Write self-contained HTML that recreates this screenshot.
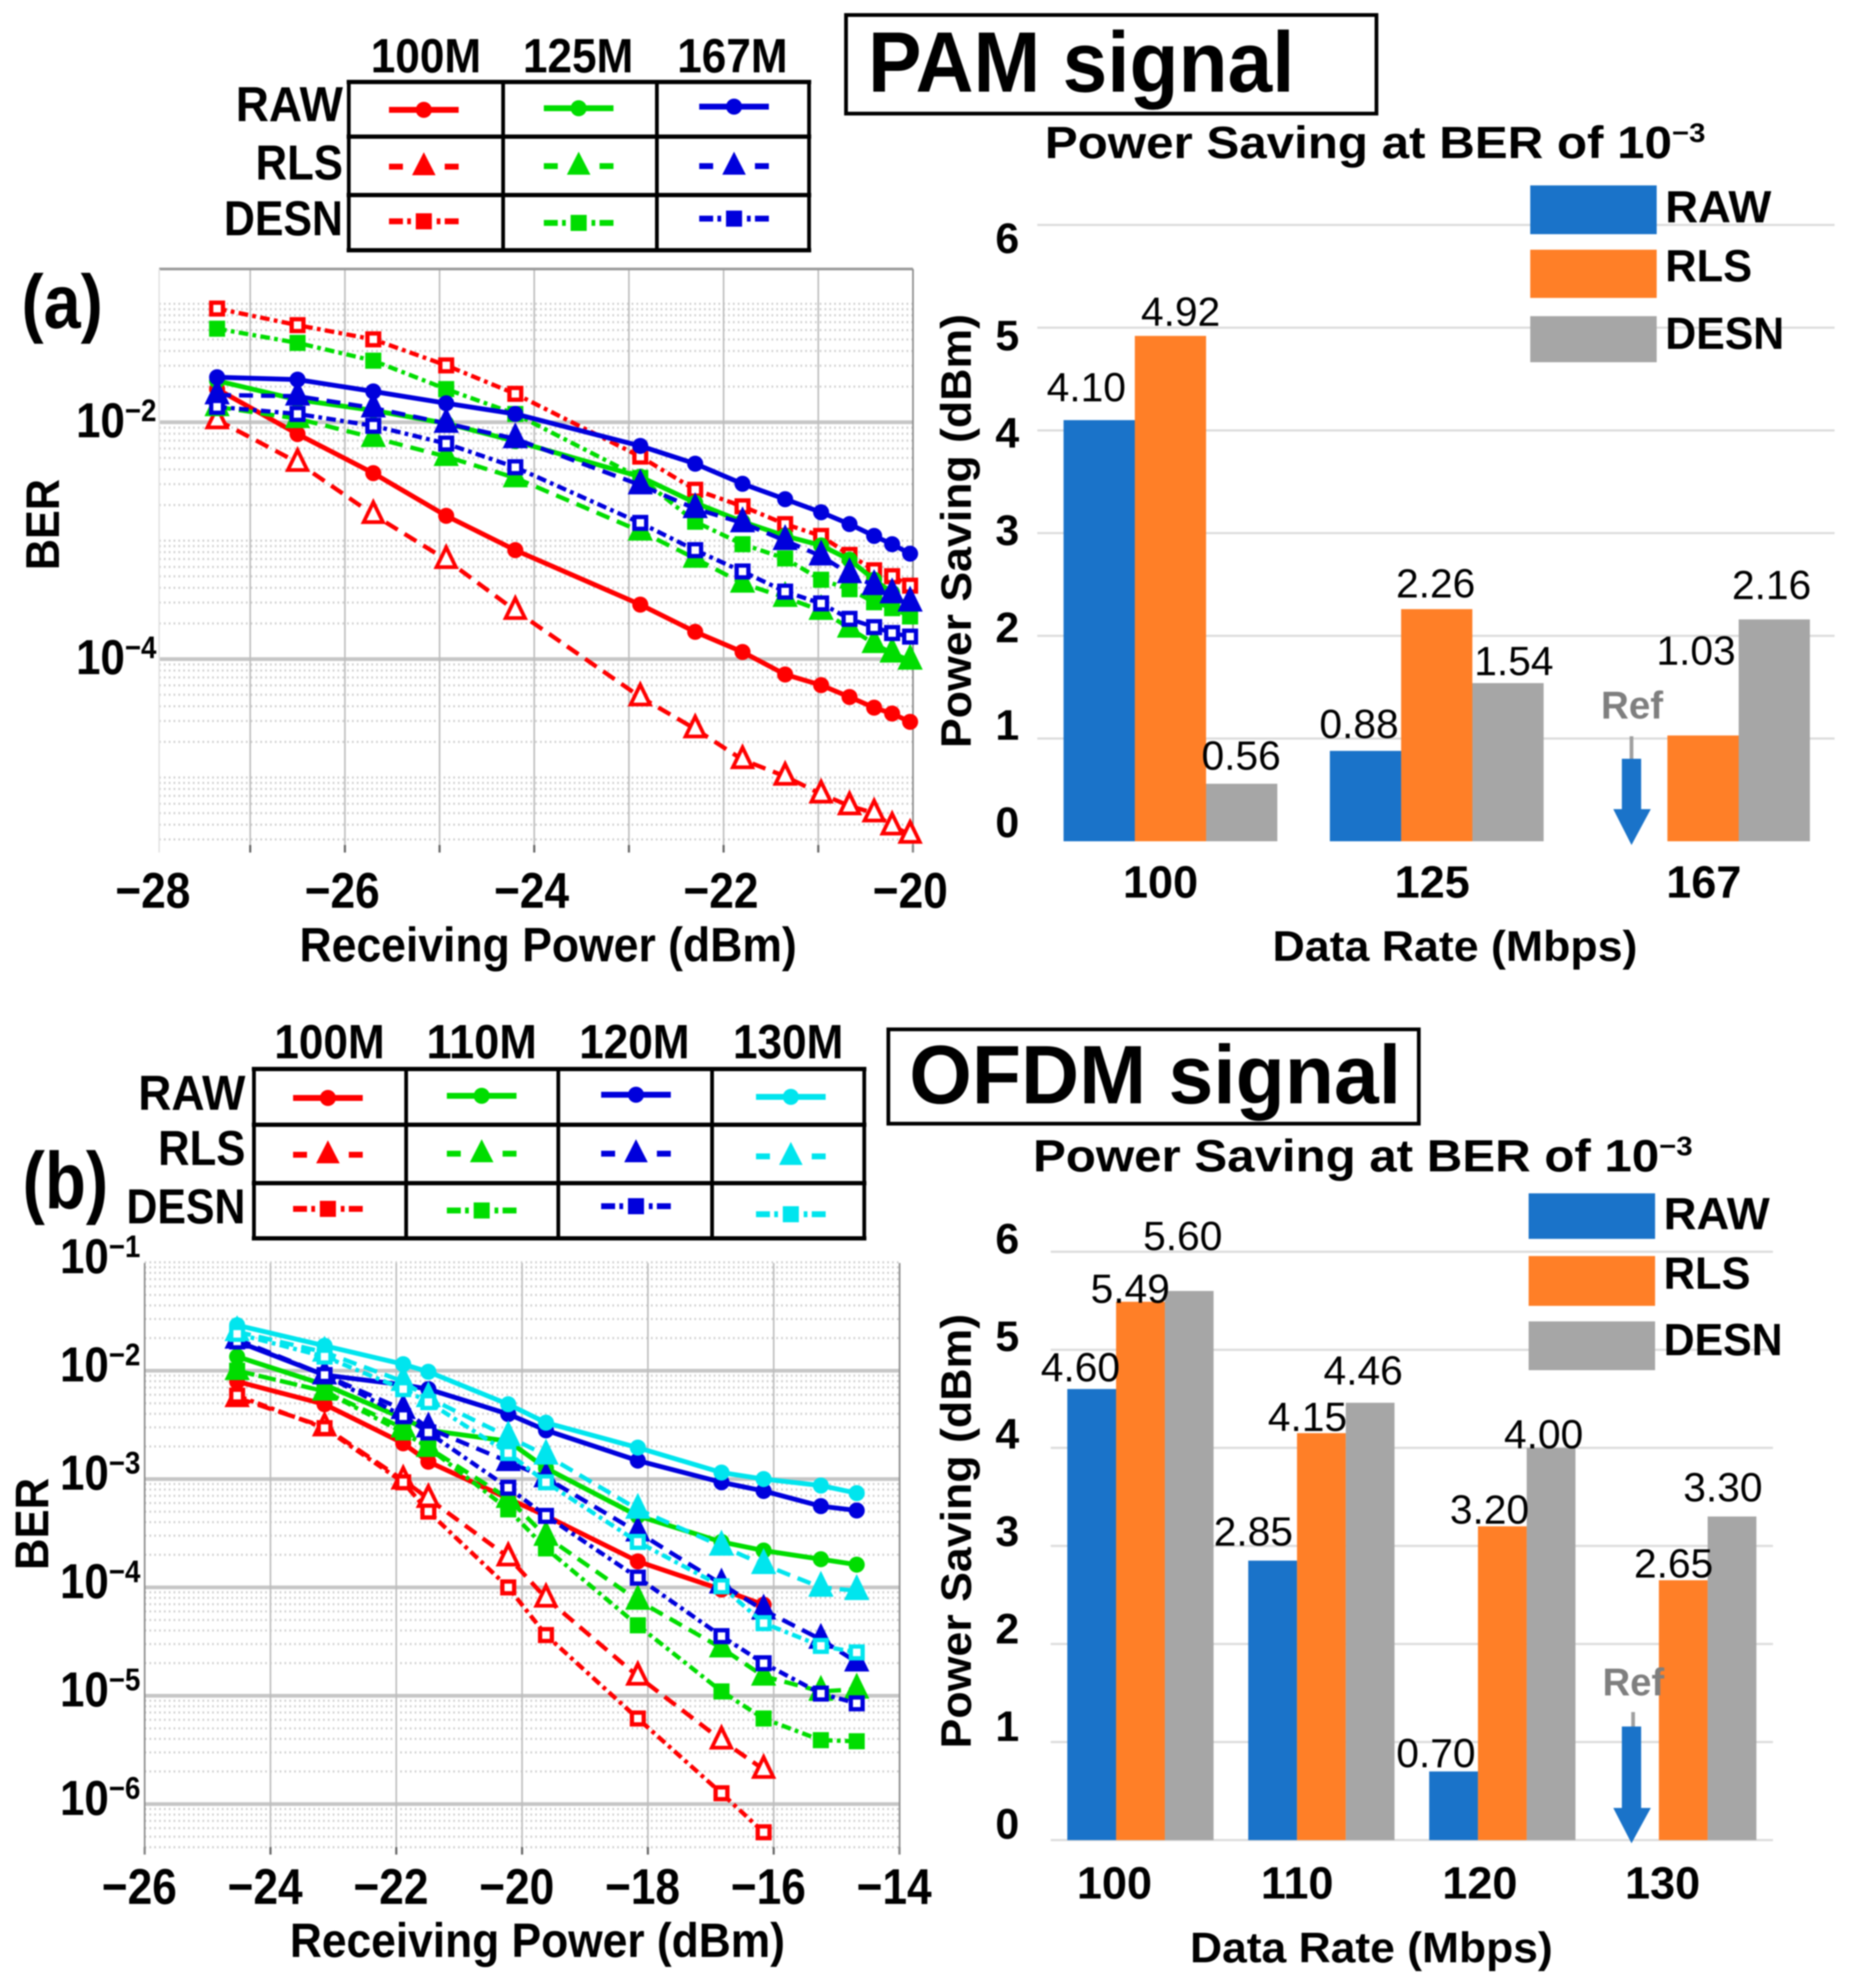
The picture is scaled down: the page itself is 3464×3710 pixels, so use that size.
<!DOCTYPE html>
<html lang="en">
<head>
<meta charset="utf-8">
<title>PAM and OFDM BER and power saving charts</title>
<style>
html,body{margin:0;padding:0;background:#fff;}
svg{display:block;filter:blur(1.2px);}
text{font-family:"Liberation Sans",sans-serif;fill:#000;}
.b{font-weight:bold;}
</style>
</head>
<body>
<svg id="figure" xmlns="http://www.w3.org/2000/svg" width="3464" height="3710" viewBox="0 0 3464 3710">
  <rect x="0" y="0" width="3464" height="3710" fill="#fff"/>

  <g id="pam-ber"></g>
  <g id="ofdm-ber"></g>
  <g id="pam-bars"></g>
  <g id="ofdm-bars"></g>
  <g id="legend-tables"></g>

  <rect x="1579" y="28" width="990" height="184" fill="#fff" stroke="#000" stroke-width="7"/>
  <text class="b" x="1620" y="171" font-size="160" textLength="796" lengthAdjust="spacingAndGlyphs">PAM signal</text>
  <rect x="1658" y="1921" width="990" height="176" fill="#fff" stroke="#000" stroke-width="7"/>
  <text class="b" x="1697" y="2059" font-size="155" textLength="918" lengthAdjust="spacingAndGlyphs">OFDM signal</text>

  <text class="b" x="40" y="612" font-size="142" textLength="152" lengthAdjust="spacingAndGlyphs">(a)</text>
  <text class="b" x="42" y="2255" font-size="150" textLength="160" lengthAdjust="spacingAndGlyphs">(b)</text>

  <text class="b" x="559" y="1794" font-size="90" textLength="928" lengthAdjust="spacingAndGlyphs">Receiving Power (dBm)</text>
  <text class="b" transform="translate(110,1064) rotate(-90)" font-size="88" textLength="170" lengthAdjust="spacingAndGlyphs">BER</text>
  <text class="b" x="541" y="3652" font-size="90" textLength="924" lengthAdjust="spacingAndGlyphs">Receiving Power (dBm)</text>
  <text class="b" transform="translate(90,2930) rotate(-90)" font-size="88" textLength="172" lengthAdjust="spacingAndGlyphs">BER</text>

  <text class="b" x="1950" y="295" font-size="84" textLength="1233" lengthAdjust="spacingAndGlyphs">Power Saving at BER of 10<tspan dy="-30" font-size="50">−3</tspan></text>
  <text class="b" x="1928" y="2186" font-size="84" textLength="1231" lengthAdjust="spacingAndGlyphs">Power Saving at BER of 10<tspan dy="-30" font-size="50">−3</tspan></text>

  <text class="b" transform="translate(1812,1396) rotate(-90)" font-size="80" textLength="810" lengthAdjust="spacingAndGlyphs">Power Saving (dBm)</text>
  <text class="b" transform="translate(1812,3263) rotate(-90)" font-size="80" textLength="811" lengthAdjust="spacingAndGlyphs">Power Saving (dBm)</text>
  <text class="b" x="2375" y="1793" font-size="80" textLength="681" lengthAdjust="spacingAndGlyphs">Data Rate (Mbps)</text>
  <text class="b" x="2221" y="3662" font-size="80" textLength="677" lengthAdjust="spacingAndGlyphs">Data Rate (Mbps)</text>

  <text class="b" x="2988" y="1341" font-size="72" textLength="116" lengthAdjust="spacingAndGlyphs" style="fill:#7f7f7f">Ref</text>
  <line x1="3045" y1="1374" x2="3045" y2="1420" stroke="#a0a0a0" stroke-width="7"/>
  <polygon points="3027,1416 3063,1416 3063,1510 3081,1510 3045,1577 3011,1510 3027,1510" fill="#1a73c9"/>
  <text class="b" x="2991" y="3164" font-size="72" textLength="115" lengthAdjust="spacingAndGlyphs" style="fill:#7f7f7f">Ref</text>
  <line x1="3048" y1="3195" x2="3048" y2="3226" stroke="#a0a0a0" stroke-width="7"/>
  <polygon points="3027,3222 3063,3222 3063,3374 3081,3374 3045,3440 3011,3374 3027,3374" fill="#1a73c9"/>
</svg>

<script>
// ---------- BER chart data (values are log10 of BER) ----------
const pamPower = [-27.35,-26.5,-25.7,-24.93,-24.2,-22.88,-22.3,-21.8,-21.35,-20.97,-20.67,-20.41,-20.22,-20.03];
const pamRaw100 = [-1.72,-2.10,-2.43,-2.79,-3.08,-3.54,-3.77,-3.94,-4.13,-4.22,-4.32,-4.41,-4.46,-4.53];
const pamRls100 = [-1.98,-2.34,-2.78,-3.16,-3.59,-4.32,-4.59,-4.85,-4.99,-5.14,-5.24,-5.30,-5.41,-5.48];
const pamDesn100 = [-1.04,-1.18,-1.30,-1.52,-1.76,-2.29,-2.57,-2.71,-2.86,-2.96,-3.12,-3.25,-3.30,-3.38];
const pamRaw125 = [-1.65,-1.81,-1.90,-2.01,-2.16,-2.46,-2.68,-2.84,-2.96,-3.04,-3.16,-3.33,-3.44,-3.57];
const pamRls125 = [-1.87,-1.97,-2.13,-2.29,-2.47,-2.92,-3.15,-3.36,-3.48,-3.59,-3.74,-3.87,-3.95,-4.01];
const pamDesn125 = [-1.21,-1.33,-1.48,-1.72,-1.93,-2.47,-2.84,-3.03,-3.15,-3.33,-3.41,-3.52,-3.57,-3.64];
const pamRaw167 = [-1.62,-1.64,-1.74,-1.84,-1.93,-2.20,-2.35,-2.52,-2.65,-2.76,-2.86,-2.96,-3.03,-3.11];
const pamRls167 = [-1.77,-1.78,-1.88,-2.01,-2.14,-2.53,-2.73,-2.85,-3.00,-3.13,-3.28,-3.38,-3.45,-3.52];
const pamDesn167 = [-1.87,-1.93,-2.03,-2.18,-2.38,-2.85,-3.08,-3.26,-3.43,-3.53,-3.66,-3.73,-3.78,-3.81];
const pamXTicks = [-28,-26,-24,-22,-20];
const pamGridX = [-27,-26,-25,-24,-23,-22,-21,-20];
const pamYTicks = [-2,-4];

const ofdmPower = [-24.53,-23.14,-21.89,-21.49,-20.22,-19.62,-18.16,-16.83,-16.16,-15.25,-14.68];
const ofdmRaw100 = [-2.10,-2.31,-2.67,-2.84,-3.18,-3.34,-3.76,-4.02,-4.16];
const ofdmRls100 = [-2.25,-2.52,-3.01,-3.18,-3.72,-4.10,-4.82,-5.41,-5.68];
const ofdmDesn100 = [-2.23,-2.53,-3.03,-3.30,-4.00,-4.44,-5.21,-5.90,-6.26];
const ofdmRaw110 = [-1.87,-2.13,-2.44,-2.55,-2.65,-2.90,-3.34,-3.58,-3.66,-3.74,-3.79];
const ofdmRls110 = [-2.00,-2.19,-2.53,-2.71,-3.18,-3.53,-4.12,-4.56,-4.82,-4.96,-4.94];
const ofdmDesn110 = [-2.00,-2.19,-2.57,-2.71,-3.28,-3.64,-4.35,-4.96,-5.21,-5.41,-5.42];
const ofdmRaw120 = [-1.73,-2.04,-2.13,-2.17,-2.40,-2.55,-2.83,-3.03,-3.11,-3.25,-3.29];
const ofdmRls120 = [-1.71,-2.04,-2.36,-2.53,-2.84,-2.99,-3.49,-3.97,-4.21,-4.48,-4.69];
const ofdmDesn120 = [-1.73,-2.04,-2.42,-2.57,-3.08,-3.34,-3.91,-4.45,-4.70,-4.98,-5.07];
const ofdmRaw130 = [-1.58,-1.77,-1.94,-2.01,-2.31,-2.48,-2.71,-2.94,-3.00,-3.06,-3.13];
const ofdmRls130 = [-1.64,-1.83,-2.10,-2.25,-2.61,-2.78,-3.28,-3.62,-3.79,-4.00,-4.03];
const ofdmDesn130 = [-1.66,-1.87,-2.17,-2.29,-2.76,-3.03,-3.58,-3.99,-4.33,-4.54,-4.60];
const ofdmXTicks = [-26,-24,-22,-20,-18,-16,-14];
const ofdmYTicks = [-1,-2,-3,-4,-5,-6];

const pamRates = [[pamRaw100,pamRls100,pamDesn100],[pamRaw125,pamRls125,pamDesn125],[pamRaw167,pamRls167,pamDesn167]];
const ofdmRates = [[ofdmRaw100,ofdmRls100,ofdmDesn100],[ofdmRaw110,ofdmRls110,ofdmDesn110],[ofdmRaw120,ofdmRls120,ofdmDesn120],[ofdmRaw130,ofdmRls130,ofdmDesn130]];

// ---------- Power saving bar data ----------
const pamCategories = ['100','125','167'];
const pamSavingRaw = [4.10,0.88,null];
const pamSavingRls = [4.92,2.26,1.03];
const pamSavingDesn = [0.56,1.54,2.16];
const ofdmCategories = ['100','110','120','130'];
const ofdmSavingRaw = [4.60,2.85,0.70,null];
const ofdmSavingRls = [5.49,4.15,3.20,2.65];
const ofdmSavingDesn = [5.60,4.46,4.00,3.30];
const savingTicks = [0,1,2,3,4,5,6];
const methods = ['RAW','RLS','DESN'];
const pamLegendHeaders = ['100M','125M','167M'];
const ofdmLegendHeaders = ['100M','110M','120M','130M'];

// ---------- Styling and layout ----------
const rateColors = ['#ff0000','#00dd00','#0000dc','#00e5ee'];
const barColors = ['#1a73c9','#ff7f27','#a6a6a6'];
const methodDash = [null,'26 15','18 8 7 8'];
const pamLabelDx = {raw:[-24,-12,0],rls:[19,-2,-13],desn:[-1,11,-5]};
const pamLabelDy = {raw:[-35,-24,0],rls:[-19,-22,-132],desn:[-26,-15,-38]};
const ofdmLabelDx = {raw:[-21,-36,-33,0],rls:[-19,-26,-24,-18],desn:[-12,-13,-14,-17]};
const ofdmLabelDy = {raw:[-14,-28,-8,0],rls:[2,-4,-5,-5],desn:[-76,-34,1,-28]};
const methodLabelWidth = [200,163,222];

const NS = 'http://www.w3.org/2000/svg';
function make(tag, attrs, parent){
  const el = document.createElementNS(NS, tag);
  for (const k in attrs) el.setAttribute(k, attrs[k]);
  parent.appendChild(el);
  return el;
}
function pamX(v){ return 467 + (v + 27) * 176.7; }
function pamY(e){ return 788 + (-2 - e) * 221; }
function ofdmX(v){ return 270 + (v + 26) * 117.4; }
function ofdmY(e){ return 2558 + (-2 - e) * 202.2; }

function drawMarker(g, kind, x, y, color, rateIndex){
  let m;
  if (kind === 0){
    m = make('circle', {cx:x, cy:y, r:15, fill:color}, g);
    
    
  } else if (kind === 1){
    const pts = [[x,y-23],[x-18,y+14],[x+18,y+14]].map(p=>p.join(',')).join(' ');
    m = make('polygon', {points:pts, fill: rateIndex === 0 ? '#fff' : color, stroke:color, 'stroke-width':7, 'stroke-linejoin':'miter'}, g);
    
    
  } else {
    const hollow = rateIndex !== 1;
    m = make('rect', {x:x-11, y:y-11, width:22, height:22, fill: hollow ? '#fff' : color, stroke:color, 'stroke-width':8}, g);
    
    
  }
}

function drawLogLabel(g, exponent, rightX, baseline){
  const t = make('text', {x:rightX, y:baseline, 'text-anchor':'end', 'font-size':92, 'font-weight':'bold', textLength:150, lengthAdjust:'spacingAndGlyphs'}, g);
  
  
  t.appendChild(document.createTextNode('10'));
  const sup = make('tspan', {dy:-30, 'font-size':58}, t);
  sup.textContent = '−' + Math.abs(exponent);
}

function drawBerChart(cfg){
  const g = document.getElementById(cfg.id);
  const grid = make('g', {}, g);
  
  
  for (let d = cfg.minorFrom; d >= cfg.minorTo; d--){
    for (let k = 2; k <= 10; k++){
      const y = cfg.y(d - 1 + Math.log10(k));
      if (y < cfg.minorTop || y > cfg.bottom) continue;
      if (k === 10 && cfg.majors.indexOf(d) >= 0) continue;
      const l = make('line', {x1:cfg.left, x2:cfg.right, y1:y, y2:y, stroke:'#cdcdcd', 'stroke-width':4, 'stroke-dasharray':'3 6'}, grid);
      
      
    }
  }
  cfg.majors.forEach(function(e){
    const y = cfg.y(e);
    const l = make('line', {x1:cfg.left, x2:cfg.right, y1:y, y2:y, stroke:'#c6c6c6', 'stroke-width':7}, grid);
    
    
  });
  cfg.gridX.forEach(function(v){
    const x = cfg.x(v);
    const l = make('line', {x1:x, x2:x, y1:cfg.top, y2:cfg.bottom, stroke:'#bdbdbd', 'stroke-width':3}, grid);
    
    
    const tick = make('line', {x1:x, x2:x, y1:cfg.bottom-14, y2:cfg.bottom, stroke:'#666', 'stroke-width':4}, grid);
    
    
  });
  if (cfg.topLine){
    const l = make('line', {x1:cfg.left, x2:cfg.right, y1:cfg.top, y2:cfg.top, stroke:'#9a9a9a', 'stroke-width':5}, grid);
    
    
  }
  const leftLine = make('line', {x1:cfg.left, x2:cfg.left, y1:cfg.top, y2:cfg.bottom, stroke:cfg.leftStroke, 'stroke-width':3}, grid);
  
  
  const rightLine = make('line', {x1:cfg.right, x2:cfg.right, y1:cfg.top, y2:cfg.bottom, stroke:'#8a8a8a', 'stroke-width':3}, grid);
  
  

  cfg.rates.forEach(function(group, r){
    group.forEach(function(values, m){
      const color = rateColors[r];
      const sg = make('g', {}, g);
      
      
      const pts = values.map(function(e, i){ return cfg.x(cfg.power[i]).toFixed(1) + ',' + cfg.y(e).toFixed(1); }).join(' ');
      const attrs = {points:pts, fill:'none', stroke:color, 'stroke-width':m === 0 ? 9 : 8, 'stroke-linejoin':'round'};
      if (methodDash[m]) attrs['stroke-dasharray'] = methodDash[m];
      const line = make('polyline', attrs, sg);
      
      
      values.forEach(function(e, i){
        drawMarker(sg, m, cfg.x(cfg.power[i]), cfg.y(e), color, r);
      });
    });
  });

  cfg.xTicks.forEach(function(v){
    const t = make('text', {x:cfg.x(v) + cfg.xLabelDx, y:cfg.xLabelY, 'text-anchor':'middle', 'font-size':94, 'font-weight':'bold', textLength:140, lengthAdjust:'spacingAndGlyphs'}, g);
    
    
    t.textContent = '−' + Math.abs(v);
  });
  cfg.yTicks.forEach(function(e){
    drawLogLabel(g, e, cfg.yLabelX, cfg.y(e) + cfg.yLabelDy);
  });
}

drawBerChart({
  id:'pam-ber', x:pamX, y:pamY, power:pamPower, rates:pamRates, headers:pamLegendHeaders,
  left:297, right:1704, top:502, bottom:1591, minorTop:560, minorFrom:-1, minorTo:-5,
  majors:[-2,-4], gridX:pamGridX, topLine:true, leftStroke:'#e4e4e4',
  xTicks:pamXTicks, xLabelDx:-5, xLabelY:1694, yTicks:pamYTicks, yLabelX:292, yLabelDy:28
});
drawBerChart({
  id:'ofdm-ber', x:ofdmX, y:ofdmY, power:ofdmPower, rates:ofdmRates, headers:ofdmLegendHeaders,
  left:270, right:1679, top:2357, bottom:3461, minorTop:2355, minorFrom:-1, minorTo:-6,
  majors:[-2,-3,-4,-5,-6], gridX:ofdmXTicks, topLine:false, leftStroke:'#8a8a8a',
  xTicks:ofdmXTicks, xLabelDx:-10, xLabelY:3553, yTicks:ofdmYTicks, yLabelX:262, yLabelDy:20
});

function drawBars(cfg){
  const g = document.getElementById(cfg.id);
  const yOf = function(v){ return cfg.y0 - cfg.unit * v; };
  savingTicks.forEach(function(v){
    const y = yOf(v);
    if (v > 0 || cfg.baseGrid){
      const l = make('line', {x1:cfg.gridLeft, x2:cfg.gridRight, y1:y, y2:y, stroke:'#dcdcdc', 'stroke-width':4}, g);
      
      
    }
    const t = make('text', {x:1880, y:cfg.labelY0 - v * cfg.labelStep, 'text-anchor':'middle', 'font-size':80, 'font-weight':'bold'}, g);
    
    
    t.textContent = String(v);
  });
  const sets = [cfg.raw, cfg.rls, cfg.desn];
  const keys = ['raw','rls','desn'];
  sets.forEach(function(values, s){
    values.forEach(function(v, i){
      if (v === null) return;
      const r = make('rect', {x:cfg.start + i * cfg.step + s * cfg.width, y:yOf(v), width:cfg.width, height:cfg.y0 - yOf(v), fill:barColors[s]}, g);
      
      
    });
  });
  sets.forEach(function(values, s){
    values.forEach(function(v, i){
      if (v === null) return;
      const cx = cfg.start + i * cfg.step + (s + 0.5) * cfg.width + cfg.dx[keys[s]][i];
      const t = make('text', {x:cx, y:yOf(v) + cfg.dy[keys[s]][i], 'text-anchor':'middle', 'font-size':76}, g);
      
      
      t.textContent = v.toFixed(2);
    });
  });
  cfg.categories.forEach(function(c, i){
    const t = make('text', {x:cfg.catX0 + i * cfg.catStep, y:cfg.catY, 'text-anchor':'middle', 'font-size':84, 'font-weight':'bold'}, g);
    
    
    t.textContent = c;
  });
  methods.forEach(function(name, s){
    const box = cfg.legend[s];
    const r = make('rect', {x:cfg.legendX, y:box[0], width:236, height:box[1], fill:barColors[s]}, g);
    
    
    const t = make('text', {x:cfg.legendX + 252, y:box[2], 'font-size':84, 'font-weight':'bold'}, g);
    
    
    t.setAttribute('textLength', name === 'RAW' ? 198 : (name === 'RLS' ? 162 : 222));
    t.setAttribute('lengthAdjust', 'spacingAndGlyphs');
    t.textContent = name;
  });
}

drawBars({
  id:'pam-bars', categories:pamCategories, raw:pamSavingRaw, rls:pamSavingRls, desn:pamSavingDesn,
  y0:1570, unit:191.7, gridLeft:1936, gridRight:3424, baseGrid:false,
  labelY0:1562, labelStep:181.7, start:1985, step:497, width:133,
  dx:pamLabelDx, dy:pamLabelDy, catX0:2166, catStep:507, catY:1675,
  legendX:2856, legend:[[346,91,415],[466,90,525],[590,86,651]]
});
drawBars({
  id:'ofdm-bars', categories:ofdmCategories, raw:ofdmSavingRaw, rls:ofdmSavingRls, desn:ofdmSavingDesn,
  y0:3434, unit:183, gridLeft:1961, gridRight:3309, baseGrid:true,
  labelY0:3431, labelStep:182, start:1992, step:337.7, width:91,
  dx:ofdmLabelDx, dy:ofdmLabelDy, catX0:2080, catStep:341, catY:3543,
  legendX:2853, legend:[[2227,85,2294],[2344,93,2405],[2466,91,2529]]
});

function drawLegendTable(cfg){
  const root = document.getElementById('legend-tables');
  const g = make('g', {}, root);
  
  
  cfg.colX.forEach(function(x){
    const l = make('line', {x1:x, x2:x, y1:cfg.rowY[0]-4, y2:cfg.rowY[3]+4, stroke:'#000', 'stroke-width':7}, g);
    
    
  });
  cfg.rowY.forEach(function(y){
    const l = make('line', {x1:cfg.colX[0]-4, x2:cfg.colX[cfg.colX.length-1]+4, y1:y, y2:y, stroke:'#000', 'stroke-width':8}, g);
    
    
  });
  cfg.headers.forEach(function(h, i){
    const t = make('text', {x:cfg.headerCx[i], y:cfg.headerY, 'text-anchor':'middle', 'font-size':90, 'font-weight':'bold', textLength:206, lengthAdjust:'spacingAndGlyphs'}, g);
    
    
    t.textContent = h;
  });
  methods.forEach(function(name, m){
    const t = make('text', {x:cfg.rowLabelX, y:cfg.rowLabelY[m], 'text-anchor':'end', 'font-size':92, 'font-weight':'bold', textLength:methodLabelWidth[m], lengthAdjust:'spacingAndGlyphs'}, g);
    
    
    t.textContent = name;
    cfg.headers.forEach(function(h, c){
      const y = cfg.sampleY[m][c];
      const x0 = cfg.sampleX[c];
      const attrs = {x1:x0, x2:x0+130, y1:y, y2:y, stroke:rateColors[c], 'stroke-width':11};
      if (m === 1) attrs['stroke-dasharray'] = '26 78';
      if (m === 2) attrs['stroke-dasharray'] = '26 8 7 48 7 8 26';
      const line = make('line', attrs, g);
      
      
      if (m === 0){
        const d = make('circle', {cx:x0+65, cy:y, r:15, fill:rateColors[c]}, g);
        
        
      } else if (m === 1){
        const tri = make('polygon', {points:(x0+65)+','+(y-27)+' '+(x0+43)+','+(y+16)+' '+(x0+87)+','+(y+16), fill:rateColors[c]}, g);
        
        
      } else {
        const sq = make('rect', {x:x0+50, y:y-15, width:30, height:30, fill:rateColors[c]}, g);
        
        
      }
    });
  });
}

drawLegendTable({
  name:'pam-legend-table', headers:pamLegendHeaders,
  colX:[651,939,1226,1510], rowY:[153,255,364,467],
  headerCx:[795,1079,1367], headerY:135, rowLabelX:640, rowLabelY:[226,335,439],
  sampleX:[726,1015,1305],
  sampleY:[[205,202,199],[311,310,310],[413,416,408]]
});
drawLegendTable({
  name:'ofdm-legend-table', headers:ofdmLegendHeaders,
  colX:[474,758,1042,1329,1613], rowY:[1995,2099,2208,2311],
  headerCx:[615,899,1184,1471], headerY:1975, rowLabelX:458, rowLabelY:[2071,2174,2283],
  sampleX:[547,834,1122,1411],
  sampleY:[[2049,2045,2043,2047],[2155,2153,2153,2158],[2256,2259,2251,2266]]
});
</script>
</body>
</html>
